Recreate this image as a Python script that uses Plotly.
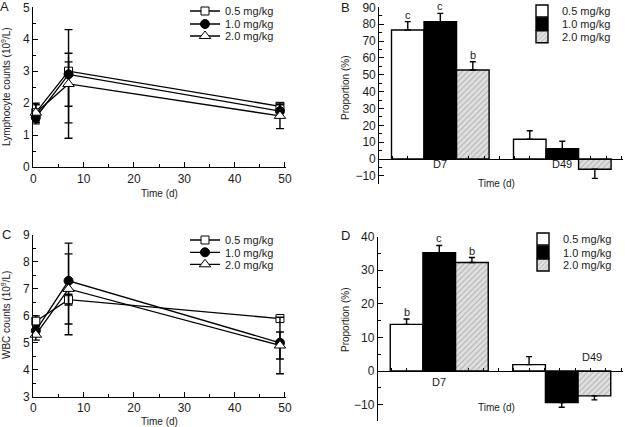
import plotly.graph_objects as go

W, H = 625, 427

# ---------------- data ----------------
days = [0.5, 7, 49]
doses = ["0.5 mg/kg", "1.0 mg/kg", "2.0 mg/kg"]

# Panel A: lymphocyte counts (10^9/L)
lym_05 = [1.70, 3.00, 1.90]
lym_05_up = [0.30, 0.29, 0.10]
lym_05_dn = [0.30, 1.62, 0.10]
lym_10 = [1.55, 2.90, 1.75]
lym_10_up = [0.20, 0.66, 0.20]
lym_10_dn = [0.20, 1.00, 0.20]
lym_20 = [1.70, 2.60, 1.60]
lym_20_up = [0.25, 1.70, 0.40]
lym_20_dn = [0.25, 1.70, 0.40]

# Panel C: WBC counts (10^9/L)
wbc_05 = [5.80, 6.60, 5.90]
wbc_05_up = [0.20, 0.20, 0.05]
wbc_05_dn = [0.20, 0.20, 0.05]
wbc_10 = [5.45, 7.30, 5.00]
wbc_10_up = [0.20, 1.00, 0.40]
wbc_10_dn = [0.20, 1.60, 0.60]
wbc_20 = [5.30, 7.00, 4.90]
wbc_20_up = [0.20, 1.70, 1.05]
wbc_20_dn = [0.20, 1.70, 1.05]

# Panel B / D: proportion (%)
groups = ["D7", "D49"]
group_pos = [0, 1]
propB_05 = [76.5, 11.7]
propB_05_err = [5.0, 5.1]
propB_10 = [81.4, 6.1]
propB_10_err = [5.0, 4.4]
propB_20 = [52.8, -6.1]
propB_20_err = [4.9, 5.4]
lettersB = ["c", "c", "b"]

propD_05 = [13.9, 1.9]
propD_05_err = [1.6, 2.4]
propD_10 = [35.2, -9.4]
propD_10_err = [2.2, 1.4]
propD_20 = [32.3, -7.4]
propD_20_err = [1.5, 1.2]
lettersD = ["b", "c", "b"]

# ---------------- helpers ----------------
FONT = "Liberation Sans, Arial, sans-serif"
TXT = "#1a1a1a"


def pxx(p):
    return p / W


def pxy(p):
    return 1 - p / H


fig = go.Figure()

line_styles = [
    dict(symbol="square", color="white", size=8),
    dict(symbol="circle", color="black", size=9),
    dict(symbol="triangle-up", color="white", size=10),
]


def add_lines(series, xa, ya, legend_ids):
    for i, (vals, up, dn) in enumerate(series):
        st = line_styles[i]
        fig.add_trace(go.Scatter(
            x=days, y=vals, xaxis=xa, yaxis=ya, name=doses[i],
            mode="lines+markers", legend=legend_ids[i],
            line=dict(color="black", width=1.3),
            marker=dict(symbol=st["symbol"], color=st["color"], size=st["size"],
                        line=dict(color="black", width=1)),
            error_y=dict(type="data", symmetric=False, array=up, arrayminus=dn,
                         color="black", thickness=1.4, width=4),
            cliponaxis=False,
        ))


bar_styles = [
    dict(color="white", pattern=None),
    dict(color="black", pattern=None),
    dict(color="#d9d9d9", pattern=dict(shape="/", fgcolor="#7a7a7a", bgcolor="#e0e0e0",
                                        size=4, solidity=0.25)),
]


def add_bars(series, xa, ya, legend_ids):
    for i, (vals, err) in enumerate(series):
        st = bar_styles[i]
        up = [e if v >= 0 else 0 for v, e in zip(vals, err)]
        dn = [e if v < 0 else 0 for v, e in zip(vals, err)]
        marker = dict(color=st["color"], line=dict(color="black", width=1.4))
        if st["pattern"]:
            marker["pattern"] = st["pattern"]
        fig.add_trace(go.Bar(
            x=group_pos, y=vals, xaxis=xa, yaxis=ya, name=doses[i],
            legend=legend_ids[i], offsetgroup=str(i), marker=marker,
            error_y=dict(type="data", symmetric=False, array=up, arrayminus=dn,
                         color="black", thickness=1.4, width=3),
        ))


add_lines([(lym_05, lym_05_up, lym_05_dn), (lym_10, lym_10_up, lym_10_dn),
           (lym_20, lym_20_up, lym_20_dn)], "x", "y", ["legend", "legend2", "legend3"])
add_bars([(propB_05, propB_05_err), (propB_10, propB_10_err), (propB_20, propB_20_err)],
         "x2", "y2", ["legend4", "legend5", "legend6"])
add_lines([(wbc_05, wbc_05_up, wbc_05_dn), (wbc_10, wbc_10_up, wbc_10_dn),
           (wbc_20, wbc_20_up, wbc_20_dn)], "x3", "y3", ["legend7", "legend8", "legend9"])
add_bars([(propD_05, propD_05_err), (propD_10, propD_10_err), (propD_20, propD_20_err)],
         "x4", "y4", ["legend10", "legend11", "legend12"])

axis_common = dict(showline=True, linecolor="black", linewidth=1.3, showgrid=False,
                   zeroline=False, ticks="inside", tickcolor="black", tickwidth=1.3,
                   ticklen=5, tickfont=dict(family=FONT, size=12, color=TXT))

# Domains (paper)
A_x = [pxx(33.3), pxx(286)]
A_y = [pxy(167), pxy(7.3)]
C_y = [pxy(396.7), pxy(235)]
B_x = [pxx(379.3), pxx(623.3)]
B_y = [pxy(184.3), pxy(7.3)]
D_x = [pxx(378), pxx(623)]
D_y = [pxy(421.4), pxy(236.7)]

B_range = [-15, 90]
D_range = [-15, 40]


def zero_pos(dom, rng):
    return dom[0] + (0 - rng[0]) / (rng[1] - rng[0]) * (dom[1] - dom[0])


minor_x_line = dict(dtick=5, ticks="inside", ticklen=3, tickcolor="black", tickwidth=1.3)

fig.update_layout(
    xaxis=dict(domain=A_x, range=[0, 50.2], anchor="y", dtick=10, tick0=0,
               minor=minor_x_line, **axis_common),
    yaxis=dict(domain=A_y, range=[0, 5], anchor="x", dtick=1, tick0=0,
               minor=dict(dtick=0.5, ticks="inside", ticklen=3, tickcolor="black", tickwidth=1.3),
               **axis_common),
    xaxis3=dict(domain=A_x, range=[0, 50.2], anchor="y3", dtick=10, tick0=0,
                minor=minor_x_line, **axis_common),
    yaxis3=dict(domain=C_y, range=[3, 9], anchor="x3", dtick=1, tick0=0,
                minor=dict(dtick=0.5, ticks="inside", ticklen=3, tickcolor="black", tickwidth=1.3),
                **axis_common),
)

bar_x_common = dict(axis_common)
bar_x_common.update(ticks="", showticklabels=False)
fig.update_layout(
    xaxis2=dict(domain=B_x, range=[-0.5, 1.5], anchor="free", position=zero_pos(B_y, B_range),
                tickvals=group_pos,
                minor=dict(dtick=0.125, tick0=-0.39, ticks="inside", ticklen=3,
                           tickcolor="black", tickwidth=1.3),
                **bar_x_common),
    yaxis2=dict(domain=B_y, range=B_range, anchor="x2", dtick=10, tick0=0,
                minor=dict(dtick=5, ticks="inside", ticklen=3, tickcolor="black", tickwidth=1.3),
                **axis_common),
    xaxis4=dict(domain=D_x, range=[-0.5, 1.5], anchor="free", position=zero_pos(D_y, D_range),
                tickvals=group_pos,
                minor=dict(dtick=0.125, tick0=-0.39, ticks="inside", ticklen=3,
                           tickcolor="black", tickwidth=1.3),
                **bar_x_common),
    yaxis4=dict(domain=D_y, range=D_range, anchor="x4", dtick=10, tick0=0,
                minor=dict(dtick=5, ticks="inside", ticklen=3, tickcolor="black", tickwidth=1.3),
                **axis_common),
    barmode="group", bargap=0.2, bargroupgap=0,
)

# Legends: one per entry, so the rows sit as close as in the original
legend_font = dict(family=FONT, size=11, color=TXT)
legend_spots = {
    "legend": (185, 11), "legend2": (185, 24), "legend3": (185, 36),
    "legend4": (522, 11), "legend5": (522, 24), "legend6": (522, 36.7),
    "legend7": (185, 240), "legend8": (185, 252.3), "legend9": (185, 264.3),
    "legend10": (523, 239), "legend11": (523, 252.3), "legend12": (523, 265),
}
leg_layout = {}
for key, (lx, ly) in legend_spots.items():
    leg_layout[key] = dict(x=pxx(lx), y=pxy(ly), xanchor="left", yanchor="middle",
                           bgcolor="rgba(0,0,0,0)", font=legend_font,
                           borderwidth=0, tracegroupgap=0)
fig.update_layout(**leg_layout)

ann = []


def text(x, y, s, size=10, angle=0, xref="paper", yref="paper", xshift=0, yshift=0):
    ann.append(dict(x=x, y=y, xref=xref, yref=yref, text=s, showarrow=False,
                    textangle=angle, xanchor="center", yanchor="middle",
                    xshift=xshift, yshift=yshift,
                    font=dict(family=FONT, size=size, color=TXT)))


# panel letters
text(pxx(4), pxy(6), "A", 13)
text(pxx(345), pxy(7), "B", 13)
text(pxx(6.5), pxy(234), "C", 13)
text(pxx(345), pxy(236), "D", 13)

# axis titles
text(pxx(159), pxy(193), "Time (d)", 10)
text(pxx(159), pxy(421), "Time (d)", 10)
text(pxx(496), pxy(183), "Time (d)", 10)
text(pxx(496), pxy(407), "Time (d)", 10)
text(pxx(6), pxy(87), "Lymphocyte counts (10<sup>9</sup>/L)", 10, angle=-90)
text(pxx(6), pxy(315), "WBC counts (10<sup>9</sup>/L)", 10, angle=-90)
text(pxx(345), pxy(88), "Proportion (%)", 10, angle=-90)
text(pxx(345), pxy(320), "Proportion (%)", 10, angle=-90)

# group labels
text(group_pos[0], 0, groups[0], 11, xref="x2", yref="y2", yshift=-5)
text(group_pos[1], 0, groups[1], 11, xref="x2", yref="y2", yshift=-5)
text(group_pos[0], 0, groups[0], 11, xref="x4", yref="y4", yshift=-11)
text(group_pos[1], 0, groups[1], 11, xref="x4", yref="y4", xshift=30, yshift=14)

# significance letters above D7 bars
bw = (1 - 0.2) / 3
B_tops = [propB_05[0] + propB_05_err[0], propB_10[0] + propB_10_err[0], propB_20[0] + propB_20_err[0]]
D_tops = [propD_05[0] + propD_05_err[0], propD_10[0] + propD_10_err[0], propD_20[0] + propD_20_err[0]]
for i in range(3):
    xo = group_pos[0] + (i - 1) * bw
    text(xo, B_tops[i], lettersB[i], 11, xref="x2", yref="y2", yshift=7)
    text(xo, D_tops[i], lettersD[i], 11, xref="x4", yref="y4", yshift=7)

fig.update_layout(
    annotations=ann,
    width=W, height=H,
    margin=dict(l=0, r=0, t=0, b=0, autoexpand=False),
    paper_bgcolor="white", plot_bgcolor="white",
    showlegend=True,
    font=dict(family=FONT, color=TXT),
)

fig.write_html("out.html", config={"displayModeBar": False},
               post_script="document.body.style.margin='0';")
